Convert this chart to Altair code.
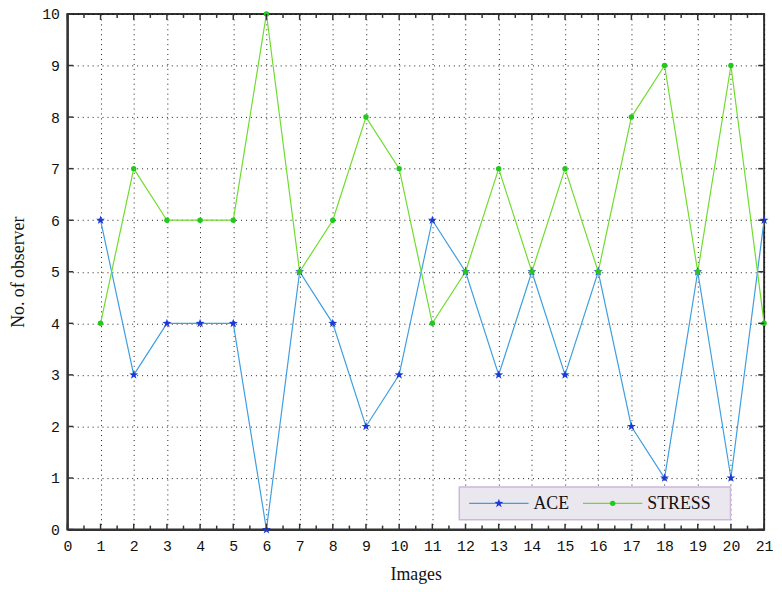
import altair as alt
import pandas as pd

images = list(range(1, 22))
ace = [6, 3, 4, 4, 4, 0, 5, 4, 2, 3, 6, 5, 3, 5, 3, 5, 2, 1, 5, 1, 6]
stress = [4, 7, 6, 6, 6, 10, 5, 6, 8, 7, 4, 5, 7, 5, 7, 5, 8, 9, 5, 9, 4]
x_ticks = list(range(0, 22))
y_ticks = list(range(0, 11))

W, H = 704, 521
df = pd.DataFrame({"img": images, "ACE": ace, "STRESS": stress})

xs = alt.Scale(domain=[0, 21], nice=False)
ys = alt.Scale(domain=[0, 10], nice=False)

label_font = "Liberation Mono"
title_font = "Liberation Serif"

base = alt.Chart(df)

xaxis = alt.Axis(values=x_ticks, title="Images", labelFont=label_font, labelFontSize=15,
                 titleFont=title_font, titleFontSize=18, titleFontWeight="normal",
                 grid=True, gridDash=[1, 4], gridColor="#000", gridOpacity=0.9,
                 domainColor="#333", domainWidth=2, ticks=False, labelPadding=9,
                 labelOverlap=False, labelFlush=False,
                 labelColor="#111", titleColor="#111", titlePadding=12)
yaxis = alt.Axis(values=y_ticks, title="No. of observer", labelFont=label_font, labelFontSize=15,
                 titleFont=title_font, titleFontSize=18, titleFontWeight="normal",
                 grid=True, gridDash=[1, 4], gridColor="#000", gridOpacity=0.9,
                 domainColor="#333", domainWidth=2, ticks=False, labelPadding=8,
                 labelOverlap=False, labelFlush=False,
                 labelColor="#111", titleColor="#111", titlePadding=14)


def X(f):
    return alt.X(f, scale=xs, axis=xaxis)


def Y(f):
    return alt.Y(f, scale=ys, axis=yaxis)


ace_line = base.mark_line(color="#3d9ee0", strokeWidth=1.2).encode(x=X("img:Q"), y=Y("ACE:Q"))
star = "M0,-1L0.24,-0.33L0.95,-0.31L0.38,0.12L0.59,0.81L0,0.4L-0.59,0.81L-0.38,0.12L-0.95,-0.31L-0.24,-0.33Z"
ace_pts = base.mark_point(shape=star, filled=True, color="#1c3ad8", size=90, opacity=1).encode(
    x=X("img:Q"), y=Y("ACE:Q"))
st_line = base.mark_line(color="#6fdc2c", strokeWidth=1.2).encode(x=X("img:Q"), y=Y("STRESS:Q"))
st_pts = base.mark_circle(color="#22c81e", size=30, opacity=1).encode(
    x=X("img:Q"), y=Y("STRESS:Q"))

# inward ticks
half = [i * 0.5 for i in range(0, 43)]
tdf = pd.DataFrame({"img": half, "len": [6 if i % 2 == 0 else 4 for i in range(43)]})
bottom_ticks = alt.Chart(tdf).mark_rule(color="#333", strokeWidth=1.5).encode(
    x=X("img:Q"), y=alt.value(H), y2=alt.YValue(alt.expr(f"{H} - datum.len")))
top_ticks = alt.Chart(tdf).mark_rule(color="#333", strokeWidth=1.5).encode(
    x=X("img:Q"), y=alt.value(0), y2=alt.YValue(alt.expr("datum.len")))
ydf = pd.DataFrame({"ACE": y_ticks})
left_ticks = alt.Chart(ydf).mark_rule(color="#333", strokeWidth=1.5).encode(
    y=Y("ACE:Q"), x=alt.value(0), x2=alt.value(6))
right_ticks = alt.Chart(ydf).mark_rule(color="#333", strokeWidth=1.5).encode(
    y=Y("ACE:Q"), x=alt.value(W - 6), x2=alt.value(W))

# legend
lx0, ly0, lx1, ly1 = 396, 478, 670, 511
leg_box = alt.Chart(pd.DataFrame({"a": [0]})).mark_rect(
    fill="#ebe7ef", stroke="#cdb8dc", strokeWidth=1.5).encode(
    x=alt.value(lx0), x2=alt.value(lx1), y=alt.value(ly0), y2=alt.value(ly1))
ymid = (ly0 + ly1) / 2
leg_l1 = alt.Chart(pd.DataFrame({"a": [0]})).mark_rule(color="#3d9ee0", strokeWidth=1.2).encode(
    x=alt.value(lx0 + 10), x2=alt.value(lx0 + 70), y=alt.value(ymid))
leg_p1 = alt.Chart(pd.DataFrame({"a": [0]})).mark_point(
    shape=star, filled=True, color="#1c3ad8", size=90, opacity=1).encode(
    x=alt.value(lx0 + 40), y=alt.value(ymid))
leg_t1 = alt.Chart(pd.DataFrame({"t": ["ACE"]})).mark_text(
    font=title_font, fontSize=18, align="left", baseline="middle", color="#111").encode(
    x=alt.value(lx0 + 75), y=alt.value(ymid + 1), text="t:N")
leg_l2 = alt.Chart(pd.DataFrame({"a": [0]})).mark_rule(color="#6fdc2c", strokeWidth=1.2).encode(
    x=alt.value(lx0 + 125), x2=alt.value(lx0 + 185), y=alt.value(ymid))
leg_p2 = alt.Chart(pd.DataFrame({"a": [0]})).mark_circle(
    color="#22c81e", size=30, opacity=1).encode(x=alt.value(lx0 + 155), y=alt.value(ymid))
leg_t2 = alt.Chart(pd.DataFrame({"t": ["STRESS"]})).mark_text(
    font=title_font, fontSize=18, align="left", baseline="middle", color="#111").encode(
    x=alt.value(lx0 + 190), y=alt.value(ymid + 1), text="t:N")

chart = alt.layer(
    ace_line, st_line, ace_pts, st_pts, bottom_ticks, top_ticks, left_ticks, right_ticks,
    leg_box, leg_l1, leg_p1, leg_t1, leg_l2, leg_p2, leg_t2,
).properties(
    width=W, height=H,
    autosize=alt.AutoSizeParams(type="none"),
    padding={"left": 60, "top": 3, "right": 10, "bottom": 55},
    background="white",
).configure_view(stroke="#333", strokeWidth=2)

chart.save("out.html", embed_options={"renderer": "svg", "actions": False})
